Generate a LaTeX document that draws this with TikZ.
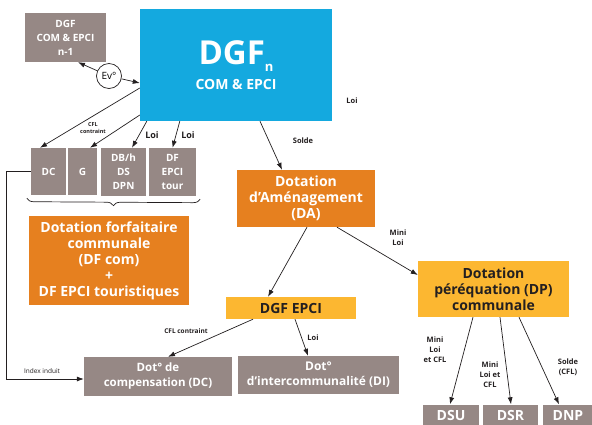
\documentclass[tikz,border=0pt]{standalone}
\usepackage{fontspec}
\setmainfont{Open Sans}
\usetikzlibrary{arrows.meta,decorations.pathreplacing}

\definecolor{dgfblue}{HTML}{14A9DF}
\definecolor{dgforange}{HTML}{E6801F}
\definecolor{dgfyellow}{HTML}{FCB731}
\definecolor{dgfgrey}{HTML}{968885}
\definecolor{dgfdark}{HTML}{231F20}

\tikzset{
  greybox/.style={fill=dgfgrey, text=white, align=center, inner sep=0pt, font=\bfseries\fontsize{10}{14}\selectfont},
  orangebox/.style={fill=dgforange, text=white, align=center, inner sep=0pt, font=\bfseries\fontsize{14}{16}\selectfont},
  yellowbox/.style={fill=dgfyellow, text=dgfdark, align=center, inner sep=0pt, font=\bfseries\fontsize{14}{16}\selectfont},
  lbl/.style={text=dgfdark, align=center, inner sep=0pt, font=\bfseries\fontsize{7.5}{10}\selectfont},
  tinylbl/.style={lbl, font=\bfseries\fontsize{5.5}{7}\selectfont},
  arr/.style={-{Latex[length=7pt,width=5pt]}, line width=0.7pt, dgfdark},
}

\begin{document}
\begin{tikzpicture}[x=1pt,y=-1pt]
  \useasboundingbox[fill=white] (0,0) rectangle (592,424);

  % top
  \node[greybox, minimum width=81pt, minimum height=49pt] (prev) at (65.5,37.5) {DGF\\COM \& EPCI\\n-1};
  \node[draw=dgfdark, line width=0.7pt, circle, minimum size=25pt, inner sep=0pt, font=\fontsize{10}{12}\selectfont] (ev) at (109,76) {Ev°};
  \node[fill=dgfblue, text=white, align=center, minimum width=192pt, minimum height=112pt, inner sep=0pt, font=\bfseries] (dgf) at (236,65)
    {\fontsize{33}{33}\selectfont DGF\raisebox{-7pt}{\fontsize{13}{13}\selectfont n}\\[7pt]\fontsize{14}{14}\selectfont COM \& EPCI};

  % dotation forfaitaire
  \node[greybox, minimum width=35pt, minimum height=47pt] (dc) at (48.5,171.5) {DC};
  \node[greybox, minimum width=29pt, minimum height=47pt] (g) at (82.5,171.5) {G};
  \node[greybox, minimum width=45pt, minimum height=48pt] (dbh) at (123.5,172) {DB/h\\DS\\DPN};
  \node[greybox, minimum width=47pt, minimum height=48pt] (dft) at (172.5,172) {DF\\EPCI\\tour};
  \node[orangebox, minimum width=160pt, minimum height=89pt] (dfcom) at (109,260.5) {Dotation forfaitaire\\communale\\(DF com)\\+\\DF EPCI touristiques};

  % amenagement
  \node[orangebox, minimum width=138pt, minimum height=57pt] (da) at (306,198.5) {Dotation\\d’Aménagement\\(DA)};
  \node[yellowbox, minimum width=130pt, minimum height=22pt] (epci) at (291,308) {DGF EPCI};
  \node[yellowbox, minimum width=151pt, minimum height=56pt] (dp) at (493.5,289) {Dotation\\péréquation (DP)\\communale};

  % bas
  \node[greybox, minimum width=148pt, minimum height=39pt, font=\bfseries\fontsize{11.5}{15}\selectfont] (dcomp) at (158,376.5) {Dot° de\\compensation (DC)};
  \node[greybox, minimum width=161pt, minimum height=38pt, font=\bfseries\fontsize{12}{15}\selectfont] (di) at (318.5,375) {Dot°\\d’intercommunalité (DI)};
  \node[greybox, minimum width=56pt, minimum height=22pt, font=\bfseries\fontsize{14}{15}\selectfont] (dsu) at (451,415.5) {DSU};
  \node[greybox, minimum width=55pt, minimum height=22pt, font=\bfseries\fontsize{14}{15}\selectfont] (dsr) at (510.5,415.5) {DSR};
  \node[greybox, minimum width=50pt, minimum height=22pt, font=\bfseries\fontsize{14}{15}\selectfont] (dnp) at (568,415.5) {DNP};

  % fleches
  \draw[arr] (ev) -- ([xshift=12.5pt]prev.south);
  \draw[arr] (ev) -- ([yshift=-18pt]dgf.west);
  \draw[arr] ([yshift=-23pt]dgf.west) -- ([xshift=-8.5pt]dc.north);
  \draw[arr] ([yshift=-50pt]dgf.west) -- ([xshift=7.5pt]g.north);
  \draw[arr] ([xshift=7pt]dgf.south west) -- ([xshift=8.5pt]dbh.north);
  \draw[arr] ([xshift=40pt]dgf.south west) -- (dft.north);
  \draw[arr] ([xshift=24pt]dgf.south) -- ([xshift=-24pt]da.north);
  \draw[arr] ([xshift=1pt]da.south) -- ([xshift=-23pt]epci.north);
  \draw[arr] ([xshift=31pt]da.south) -- ([yshift=14pt]dp.west);
  \draw[arr] ([xshift=-38pt]epci.south) -- ([xshift=10pt]dcomp.north);
  \draw[arr] ([xshift=4pt]epci.south) -- ([xshift=-10.5pt]di.north);
  \draw[arr] ([xshift=-20.5pt]dp.south) -- ([xshift=-1pt]dsu.north);
  \draw[arr] ([xshift=6.5pt]dp.south) -- ([xshift=0.5pt]dsr.north);
  \draw[arr] ([xshift=25.5pt]dp.south) -- ([xshift=-9pt]dnp.north);
  \draw[arr] (dc.west) -- ++(-24,0) |- ([yshift=-2.5pt]dcomp.west);

  \draw[line width=0.7pt, dgfdark, decorate, decoration={brace, mirror, amplitude=7pt}]
    ([xshift=-4pt,yshift=-3pt]dc.south west) -- ([xshift=4pt,yshift=-3pt]dft.south east);

  % etiquettes
  \node[lbl] (l1) at (352,101) {Loi};
  \node[tinylbl] (l2) at (93,128) {CFL\\contraint};
  \node[lbl, font=\bfseries\fontsize{9}{11}\selectfont] (l3) at (152,135) {Loi};
  \node[lbl, font=\bfseries\fontsize{9}{11}\selectfont] (l4) at (188,135) {Loi};
  \node[lbl] (l5) at (303,141) {Solde};
  \node[lbl] (l6) at (398,238) {Mini\\Loi};
  \node[lbl, font=\bfseries\fontsize{6.5}{9}\selectfont] (l7) at (186,331) {CFL contraint};
  \node[lbl] (l8) at (313,338) {Loi};
  \node[lbl, font=\fontsize{6.5}{9}\selectfont] (l9) at (42,371) {Index induit};
  \node[lbl] (l10) at (435,350) {Mini\\Loi\\et CFL};
  \node[lbl] (l11) at (490,375) {Mini\\Loi et\\CFL};
  \node[lbl] (l12) at (568,367) {Solde\\(CFL)};
\end{tikzpicture}
\end{document}
